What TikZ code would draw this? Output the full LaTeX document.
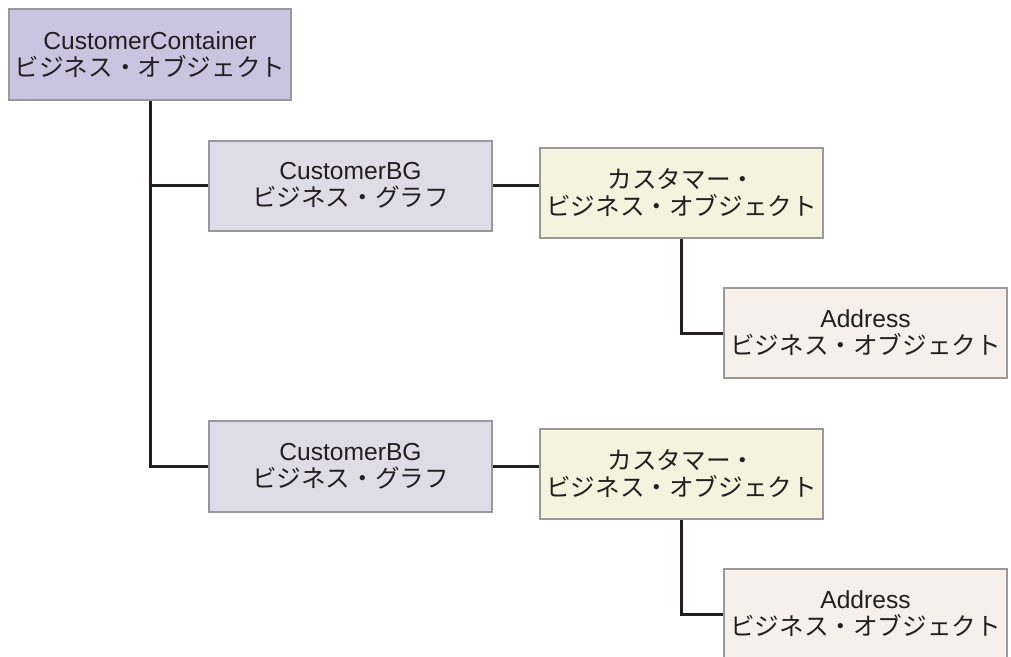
\documentclass[tikz,border=0pt]{standalone}
\usepackage{fontspec}
\setmainfont{Liberation Sans}
\newfontfamily\jp{Noto Sans CJK JP}
\definecolor{topfill}{HTML}{C9C5E1}
\definecolor{bgfill}{HTML}{DEDCE7}
\definecolor{custfill}{HTML}{F5F2DE}
\definecolor{addrfill}{HTML}{F6EFEA}
\definecolor{edgegray}{HTML}{999999}
\definecolor{ink}{HTML}{231F20}
\tikzset{
  box/.style={draw=edgegray, line width=2pt, minimum width=283pt, minimum height=90pt,
    align=center, inner sep=0pt, text=ink,
    font=\fontsize{24.6}{27}\selectfont},
  link/.style={draw=ink, line width=3pt}
}
\begin{document}
\begin{tikzpicture}[x=1pt,y=-1pt]
\useasboundingbox (0,0) rectangle (1011,656);
\node[box, fill=topfill, minimum width=282pt, minimum height=91pt] (top) at (150,54.5) {CustomerContainer\\{\jp ビジネス・オブジェクト}};
\node[box, fill=bgfill] (bg1) at (350.5,185.5) {CustomerBG\\{\jp ビジネス・グラフ}};
\node[box, fill=custfill] (c1) at (681.5,193) {{\jp カスタマー・}\\{\jp ビジネス・オブジェクト}};
\node[box, fill=addrfill] (a1) at (865.5,333) {Address\\{\jp ビジネス・オブジェクト}};
\node[box, fill=bgfill, minimum height=91pt] (bg2) at (350.5,466.5) {CustomerBG\\{\jp ビジネス・グラフ}};
\node[box, fill=custfill] (c2) at (681.5,474) {{\jp カスタマー・}\\{\jp ビジネス・オブジェクト}};
\node[box, fill=addrfill] (a2) at (865.5,614) {Address\\{\jp ビジネス・オブジェクト}};
\draw[link] (top.south) |- (bg2.west);
\draw[link] (top.south |- bg1.west) -- (bg1.west);
\draw[link] (bg1.east) -- (bg1.east -| c1.west);
\draw[link] (bg2.east) -- (bg2.east -| c2.west);
\draw[link] (c1.south) |- (a1.west);
\draw[link] (c2.south) |- (a2.west);
\end{tikzpicture}
\end{document}
